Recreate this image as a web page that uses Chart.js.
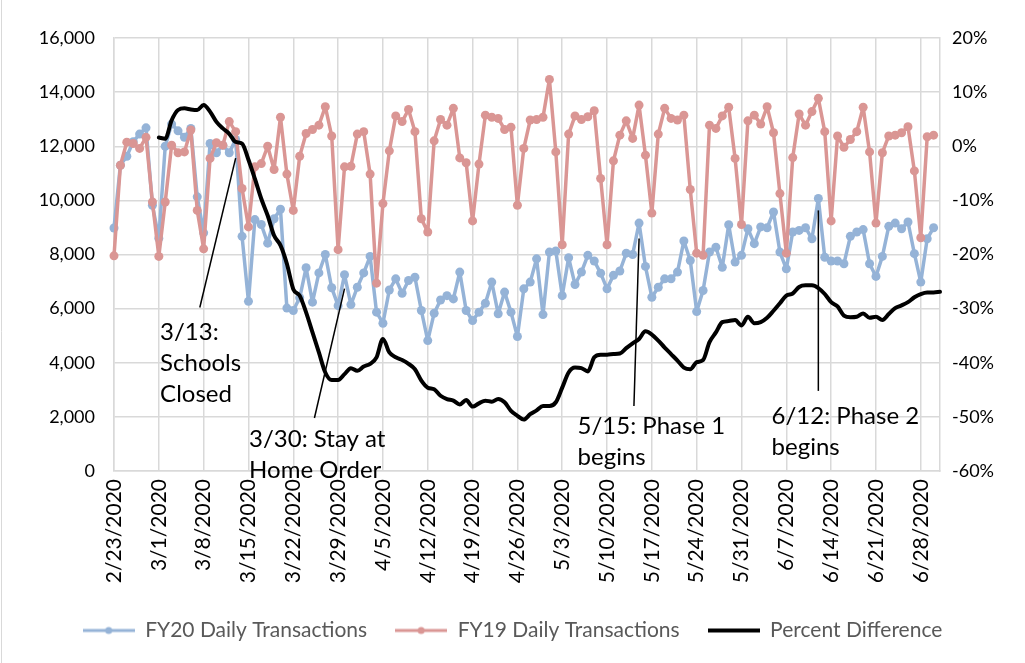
<!DOCTYPE html>
<html lang="en">
<head>
<meta charset="UTF-8">
<title>FY20 vs FY19 Daily Transactions</title>
<script src="https://cdn.jsdelivr.net/npm/chart.js"></script>
<style>
    body {
        margin: 0;
        background: #ffffff;
    }

    #wrap {
        width: 1025px;
        height: 663px;
    }
</style>
</head>
<body>
<div id="wrap"><canvas id="chart" width="1025" height="663"></canvas></div>

<script>
    // categories: one per day, 2/23/2020 .. 7/1/2020
    const dates = [];
    for (let i = 0; i < 130; i++) {
        const d = new Date(2020, 1, 23 + i);
        dates.push((d.getMonth() + 1) + '/' + d.getDate() + '/' + d.getFullYear());
    }

    const fy20 = [
        8980, 11300, 11630, 12170, 12450, 12680, 9820,
        8600, 12000, 12820, 12570, 12330, 12660, 10130,
        8800, 12100, 11760, 12040, 11760, 12250, 8670,
        6270, 9290, 9110, 8420, 9320, 9670, 6020,
        5930, 6400, 7510, 6240, 7320, 8000, 6770,
        6110, 7250, 6150, 6790, 7320, 7930, 5870,
        5460, 6690, 7100, 6570, 7040, 7160, 5930,
        4820, 5830, 6320, 6480, 6360, 7350, 5930,
        5560, 5870, 6200, 6980, 5810, 6610, 5870,
        4970, 6730, 6980, 7840, 5780, 8090, 8130,
        6480, 7880, 6890, 7350, 7970, 7760, 7310,
        6730, 7230, 7390, 8050, 8000, 9160, 7560,
        6420, 6790, 7100, 7100, 7350, 8500, 7780,
        5890, 6670, 8090, 8270, 7530, 9100, 7720,
        7970, 8950, 8400, 9020, 8990, 9570, 8090,
        7470, 8830, 8890, 8990, 8580, 10070, 7900,
        7760, 7760, 7660, 8670, 8830, 8920, 7660,
        7190, 7930, 9040, 9160, 8950, 9200, 8030,
        6980, 8580, 8990
    ];

    const fy19 = [
        7950, 11300, 12150, 12100, 11920, 12330, 9940,
        7930, 9940, 12040, 11760, 11790, 12600, 9630,
        8210, 11550, 12130, 12040, 12910, 12540, 10440,
        9020, 11240, 11360, 12000, 11140, 13070, 10970,
        9630, 11630, 12470, 12620, 12780, 13460, 12380,
        8180, 11240, 11260, 12450, 12540, 10970, 6940,
        9880, 11830, 13120, 12910, 13360, 12540, 9320,
        8830, 12200, 12990, 12780, 13400, 11570, 11390,
        9240, 11340, 13150, 13070, 13030, 12620, 12700,
        9820, 11920, 12970, 12990, 13070, 14470, 11790,
        8360, 12450, 13120, 12990, 13090, 13310, 10810,
        8360, 11460, 12410, 12940, 12290, 13520, 11670,
        9530, 12450, 13400, 13030, 12970, 13150, 10400,
        8050, 7970, 12780, 12660, 13120, 13440, 11550,
        9110, 12940, 13150, 12820, 13460, 12500, 10250,
        8050, 11580, 13190, 12780, 13280, 13770, 12540,
        9240, 12380, 11960, 12250, 12540, 13440, 11790,
        9160, 11760, 12380, 12410, 12500, 12720, 11090,
        8620, 12350, 12410
    ];

    // percent difference (right axis), starts 3/1
    const pctDiff = [
        null, null, null, null, null, null, null,
        1.6, 1.4, 4.8, 6.7, 7.0, 6.8, 6.7,
        7.6, 6.4, 4.5, 3.3, 2.3, 0.8, 0.5,
        -2.5, -6.0, -9.7, -12.8, -16.5, -18.3, -21.7,
        -26.4, -27.6, -30.7, -34.4, -38.1, -41.8, -43.2,
        -43.2, -42.1, -41.0, -41.5, -40.7, -40.2, -39.0,
        -35.6, -38.1, -39.0, -39.5, -40.2, -41.2, -43.3,
        -44.6, -44.9, -46.1, -46.7, -47.0, -47.7, -46.9,
        -48.1, -47.5, -47.0, -47.2, -46.7, -47.3, -48.9,
        -49.8, -50.5, -49.5, -48.8, -48.0, -48.0, -47.3,
        -44.6, -41.8, -40.9, -41.0, -41.6, -39.0, -38.5,
        -38.5, -38.4, -38.3, -37.3, -36.4, -35.6, -34.2,
        -34.8, -35.9, -37.2, -38.4, -39.6, -40.9, -41.2,
        -39.9, -39.5, -36.2, -34.4, -32.5, -32.3, -32.1,
        -33.1, -31.5, -32.7, -32.5, -31.7, -30.4, -29.0,
        -27.6, -27.2, -26.0, -25.7, -25.7, -26.2, -27.3,
        -28.8, -29.6, -31.3, -31.6, -31.5, -30.9, -31.7,
        -31.5, -32.1, -31.0, -29.9, -29.4, -28.8, -27.9,
        -27.3, -27.0, -27.0, -26.9
    ];

    const seriesNames = ['FY20 Daily Transactions', 'FY19 Daily Transactions', 'Percent Difference'];

    const noteLabels = [
        ['3/13:', 'Schools', 'Closed'],
        ['3/30: Stay at', 'Home Order'],
        ['5/15: Phase 1', 'begins'],
        ['6/12: Phase 2', 'begins']
    ];

    // leader lines and text, as (day index, left-axis value)
    const noteLayout = [
        { top: [19, 11560], bottom: [13.4, 6040], text: [7.2, 5111] },
        { top: [36, 6740], bottom: [31.3, 1960], text: [21.1, 1185] },
        { top: [82, 8590], bottom: [81.2, 2400], text: [72.4, 1667] },
        { top: [110, 9630], bottom: [110, 2960], text: [102.7, 2037] }
    ];

    const BLUE = '#95B3D7';
    const RED = '#DA9694';
    const GRID = '#d9d9d9';

    Chart.defaults.font.family = 'Lato, sans-serif';
    Chart.defaults.color = '#000000';

    function legendIcon(color, withDot) {
        const c = document.createElement('canvas');
        c.width = 52;
        c.height = 10;
        const g = c.getContext('2d');
        g.strokeStyle = color;
        g.lineWidth = withDot ? 3 : 4;
        g.beginPath();
        g.moveTo(0, 5);
        g.lineTo(52, 5);
        g.stroke();
        if (withDot) {
            g.fillStyle = color;
            g.beginPath();
            g.arc(26, 5, 3.5, 0, Math.PI * 2);
            g.fill();
        }
        return c;
    }
    const icons = [legendIcon(BLUE, true), legendIcon(RED, true), legendIcon('#000000', false)];

    const background = {
        id: 'background',
        beforeDraw(chart) {
            const ctx = chart.ctx;
            ctx.save();
            ctx.fillStyle = '#ffffff';
            ctx.fillRect(0, 0, chart.width, chart.height);
            ctx.strokeStyle = GRID;
            ctx.lineWidth = 1;
            ctx.beginPath();
            ctx.moveTo(1.5, 0);
            ctx.lineTo(1.5, chart.height);
            ctx.stroke();
            ctx.restore();
        }
    };

    const notes = {
        id: 'notes',
        afterDatasetsDraw(chart) {
            const { ctx, scales: { x, y } } = chart;
            ctx.save();
            ctx.strokeStyle = '#000000';
            ctx.lineWidth = 1.5;
            ctx.fillStyle = '#000000';
            ctx.font = '24px Lato';
            ctx.textAlign = 'left';
            ctx.textBaseline = 'middle';
            noteLabels.forEach((lines, k) => {
                const p = noteLayout[k];
                ctx.beginPath();
                ctx.moveTo(x.getPixelForValue(p.top[0]), y.getPixelForValue(p.top[1]));
                ctx.lineTo(x.getPixelForValue(p.bottom[0]), y.getPixelForValue(p.bottom[1]));
                ctx.stroke();
                const tx = x.getPixelForValue(p.text[0]);
                const ty = y.getPixelForValue(p.text[1]);
                lines.forEach((t, j) => ctx.fillText(t, tx, ty + j * 31));
            });
            ctx.restore();
        }
    };

    new Chart(document.getElementById('chart'), {
        type: 'line',
        data: {
            labels: dates,
            datasets: [
                {
                    label: seriesNames[0],
                    data: fy20,
                    yAxisID: 'y',
                    borderColor: BLUE,
                    backgroundColor: BLUE,
                    borderWidth: 3.5,
                    borderJoinStyle: 'round',
                    borderCapStyle: 'round',
                    pointRadius: 4.5,
                    pointBorderWidth: 0,
                    pointBackgroundColor: BLUE,
                    clip: false,
                    order: 2
                },
                {
                    label: seriesNames[1],
                    data: fy19,
                    yAxisID: 'y',
                    borderColor: RED,
                    backgroundColor: RED,
                    borderWidth: 3.5,
                    borderJoinStyle: 'round',
                    borderCapStyle: 'round',
                    pointRadius: 4.5,
                    pointBorderWidth: 0,
                    pointBackgroundColor: RED,
                    clip: false,
                    order: 1
                },
                {
                    label: seriesNames[2],
                    data: pctDiff,
                    yAxisID: 'y1',
                    borderColor: '#000000',
                    backgroundColor: '#000000',
                    borderWidth: 4,
                    borderJoinStyle: 'round',
                    borderCapStyle: 'round',
                    pointRadius: 0,
                    cubicInterpolationMode: 'monotone',
                    clip: false,
                    order: 0
                }
            ]
        },
        options: {
            responsive: false,
            animation: false,
            layout: { padding: { top: 38, left: 0, right: 0, bottom: 12 } },
            plugins: {
                tooltip: { enabled: false },
                legend: {
                    position: 'bottom',
                    labels: {
                        usePointStyle: true,
                        pointStyleWidth: 52,
                        padding: 28,
                        color: '#595959',
                        font: { size: 21 },
                        sort: (a, b) => a.datasetIndex - b.datasetIndex,
                        generateLabels(chart) {
                            const items = Chart.defaults.plugins.legend.labels.generateLabels(chart);
                            items.forEach(it => { it.pointStyle = icons[it.datasetIndex]; });
                            return items;
                        }
                    }
                }
            },
            scales: {
                x: {
                    offset: false,
                    afterFit(scale) { scale.height = 121; },
                    grid: {
                        drawTicks: false,
                        lineWidth: 1.5,
                        color: ctx => (ctx.index % 7 === 0 ? GRID : 'rgba(0,0,0,0)')
                    },
                    border: { display: true, color: GRID, width: 1.5 },
                    ticks: {
                        autoSkip: false,
                        minRotation: 90,
                        maxRotation: 90,
                        padding: 8,
                        font: { size: 21 },
                        callback: function (val, i) {
                            return i % 7 === 0 ? this.getLabelForValue(val) : '';
                        }
                    }
                },
                y: {
                    position: 'left',
                    min: 0,
                    max: 16000,
                    afterFit(scale) { scale.width = 114; },
                    grid: { drawTicks: false, color: GRID, lineWidth: 1.5 },
                    border: { display: true, color: GRID, width: 1.5 },
                    ticks: {
                        stepSize: 2000,
                        padding: 19,
                        font: { size: 18 },
                        callback: v => v.toLocaleString('en-US')
                    }
                },
                y1: {
                    position: 'right',
                    min: -60,
                    max: 20,
                    afterFit(scale) { scale.width = 85; },
                    grid: { drawOnChartArea: false, drawTicks: false },
                    border: { display: true, color: GRID, width: 1.5 },
                    ticks: {
                        stepSize: 10,
                        padding: 12,
                        font: { size: 18 },
                        callback: v => v + '%'
                    }
                }
            }
        },
        plugins: [background, notes]
    });
</script>
</body>
</html>
